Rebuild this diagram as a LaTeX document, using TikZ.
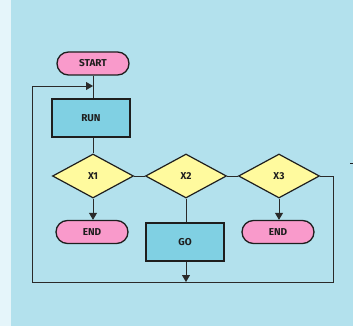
\documentclass[tikz,border=0pt]{standalone}
\usepackage{fontspec}
\setmainfont{Fira Sans}
\usetikzlibrary{shapes.geometric,arrows.meta}
\definecolor{bgmain}{HTML}{B3E1ED}
\definecolor{bgpale}{HTML}{E5F5FA}
\definecolor{pinkfill}{HTML}{F99ACB}
\definecolor{tealfill}{HTML}{80D0E3}
\definecolor{yellowfill}{HTML}{FFFA9E}
\definecolor{ink}{HTML}{1E1E1E}
\definecolor{wire}{HTML}{2A2A2A}
\tikzset{
  lbl/.style={font=\fontsize{10}{12}\selectfont\bfseries, text=ink},
  term/.style={lbl, draw=ink, line width=1.3pt, fill=pinkfill, rectangle,
    rounded corners=11.5pt, minimum width=72pt, minimum height=23pt, inner sep=0pt},
  proc/.style={lbl, draw=ink, line width=1.3pt, fill=tealfill, rectangle,
    minimum width=78pt, minimum height=38pt, inner sep=0pt},
  dec/.style={lbl, draw=ink, line width=1.2pt, fill=yellowfill, diamond,
    minimum width=81pt, minimum height=44pt, inner sep=0pt},
  conn/.style={draw=wire, line width=0.9pt},
  arr/.style={conn, -{Triangle[width=8pt,length=7pt]}},
}
\begin{document}
\begin{tikzpicture}[x=1pt,y=-1pt]
\useasboundingbox (0,0) rectangle (353,326);
\fill[bgpale] (0,0) rectangle (353,326);
\fill[bgmain] (11,0) rectangle (353,326);

\node[term] (start) at (93,63.5) {START};
\node[proc] (run) at (91,118) {RUN};
\node[dec] (x1) at (93,176) {X1};
\node[dec] (x2) at (186,176) {X2};
\node[dec] (x3) at (279,176) {X3};
\node[term] (end1) at (92,232) {END};
\node[proc] (go) at (185,242) {GO};
\node[term] (end2) at (278,232) {END};

\coordinate (join) at (93,86);
\coordinate (rc) at (333,176);
\coordinate (br) at (333,282);
\coordinate (bl) at (32,282);
\coordinate (bm) at (186,282);
\coordinate (dashA) at (350,163.5);
\coordinate (dashB) at (353,163.5);

\draw[conn] (start.south) -- (run.north -| start.south);
\draw[conn] (run.south -| x1.north) -- (x1.north);
\draw[conn] (x1.east) -- (x2.west);
\draw[conn] (x2.east) -- (x3.west);
\draw[arr] (x1.south) -- (end1.north -| x1.south);
\draw[conn] (x2.south) -- (go.north -| x2.south);
\draw[arr] (x3.south) -- (end2.north -| x3.south);
\draw[arr] (go.south -| bm) -- (bm);
\draw[conn] (x3.east) -- (rc) -- (br) -- (bl) -- (bl |- join);
\draw[arr] (bl |- join) -- (join);
\draw[draw=ink, line width=0.8pt] (dashA) -- (dashB);
\end{tikzpicture}
\end{document}
